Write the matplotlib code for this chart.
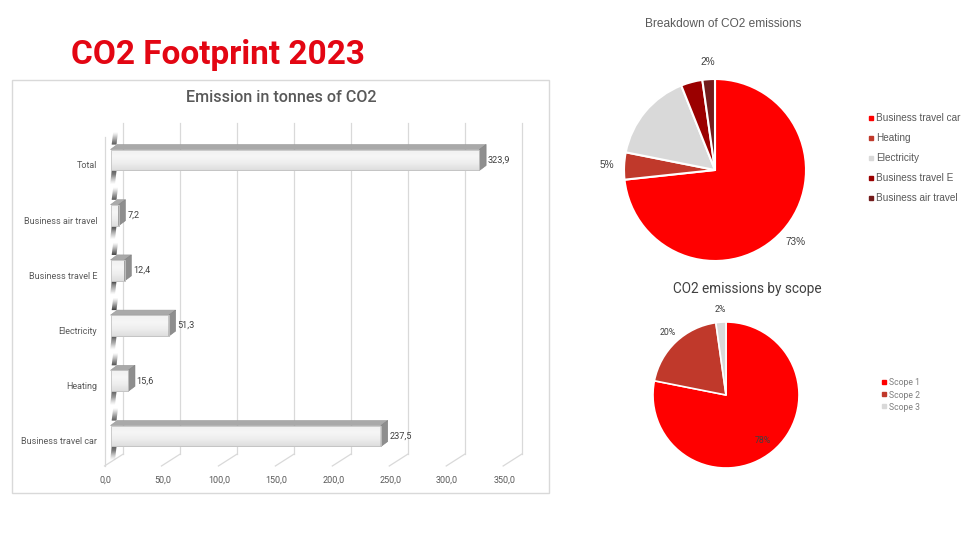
import matplotlib
matplotlib.use("Agg")
import matplotlib.pyplot as plt
import numpy as np
from matplotlib.patches import Polygon, Rectangle
from matplotlib.lines import Line2D
from matplotlib.transforms import ScaledTranslation, IdentityTransform
from matplotlib.colors import LinearSegmentedColormap

# ---------------- data ----------------
bar_categories = ["Business travel car", "Heating", "Electricity",
                  "Business travel E", "Business air travel", "Total"]
bar_values = [237.5, 15.6, 51.3, 12.4, 7.2, 323.9]
x_ticks = [0, 50, 100, 150, 200, 250, 300, 350]

pie1_labels = ["Business travel car", "Heating", "Electricity",
               "Business travel E", "Business air travel"]
pie1_values = [237.5, 15.6, 51.3, 12.4, 7.2]
pie1_show = [True, True, False, False, True]
pie1_colors = ["#ff0000", "#c0392b", "#d9d9d9", "#9b0000", "#731c1c"]

pie2_labels = ["Scope 1", "Scope 2", "Scope 3"]
pie2_values = [253.1, 63.7, 7.2]
pie2_colors = ["#ff0000", "#c0392b", "#d9d9d9"]

W, H = 972, 547
fig = plt.figure(figsize=(W / 100, H / 100), dpi=100)
fig.patch.set_facecolor("white")

def fx(px):
    return px / W

def fy(py):
    return 1 - py / H

# ---------------- red title ----------------
fig.text(fx(218), fy(55), "CO2 Footprint 2023", color="#e30613",
         fontsize=24, fontweight="bold", family="Roboto",
         ha="center", va="center")

# ---------------- bar chart box ----------------
fig.add_artist(Rectangle((fx(11.5), fy(493)), fx(549) - fx(11.5), fy(80) - fy(493),
                         transform=fig.transFigure, facecolor="none",
                         edgecolor="#d9d9d9", linewidth=1.0))
fig.text(fx(281), fy(98), "Emission in tonnes of CO2", color="#595959",
         fontsize=11.6, fontweight="medium", family="Roboto",
         ha="center", va="center")

# bar plane axes
x0_px, ppu = 110.5, 1.139
ax = fig.add_axes([fx(x0_px), fy(461.5), (350 * ppu) / W, (461.5 - 133.5) / H])
ax.set_xlim(0, 350)
ax.set_ylim(-0.462, 5.48)
ax.patch.set_visible(False)
for s in ax.spines.values():
    s.set_visible(False)

ypos = np.arange(len(bar_categories))
bar_h = 0.38

fig.canvas.draw()

def disp(x, y):
    return ax.transData.transform((x, y))

def img2disp_y(py):
    return H - py

DX_BACK, DX_FRONT = 12.8, -6.0
grid_col = "#d9d9d9"
for v in x_ticks:
    xb = disp(v, 0)[0]
    back_x = xb + DX_BACK
    front_x = xb + DX_FRONT
    ax.add_line(Line2D([back_x, back_x], [img2disp_y(454), img2disp_y(123)],
                       transform=IdentityTransform(), color=grid_col, lw=0.9,
                       clip_on=False, zorder=1))
    ax.add_line(Line2D([back_x, front_x], [img2disp_y(454), img2disp_y(466)],
                       transform=IdentityTransform(), color=grid_col, lw=0.9,
                       clip_on=False, zorder=1))
# left wall front edge
xf0 = disp(0, 0)[0] + DX_FRONT
ax.add_line(Line2D([xf0, xf0], [img2disp_y(466), img2disp_y(137)],
                   transform=IdentityTransform(), color=grid_col, lw=0.9,
                   clip_on=False, zorder=1))

# bars (front faces)
bars = ax.barh(ypos, bar_values, height=bar_h, color="#ececec",
               edgecolor="#c8c8c8", linewidth=0.6, zorder=3)

grad = np.linspace(0, 1, 64).reshape(-1, 1)
cmap = LinearSegmentedColormap.from_list("g", ["#dedede", "#eeeeee", "#f6f6f6", "#f0f0f0"])
SDX, SDY = 6.7, 5.0
for b, v in zip(bars, bar_values):
    x_l, y_b = b.get_x(), b.get_y()
    x_r, y_t = x_l + b.get_width(), y_b + b.get_height()
    im = ax.imshow(grad, extent=(x_l, x_r, y_b, y_t), aspect="auto", cmap=cmap,
                   origin="lower", zorder=3.1)
    im.set_clip_path(b)
    p_tl, p_tr = disp(x_l, y_t), disp(x_r, y_t)
    p_br, p_bl = disp(x_r, y_b), disp(x_l, y_b)
    top = Polygon([p_tl, p_tr, (p_tr[0] + SDX, p_tr[1] + SDY), (p_tl[0] + SDX, p_tl[1] + SDY)],
                  closed=True, transform=IdentityTransform(), facecolor="#a9a9a9",
                  edgecolor="#9a9a9a", lw=0.4, zorder=3.2, clip_on=False)
    side = Polygon([p_tr, p_br, (p_br[0] + SDX, p_br[1] + SDY), (p_tr[0] + SDX, p_tr[1] + SDY)],
                   closed=True, transform=IdentityTransform(), facecolor="#8e8e8e",
                   edgecolor="#808080", lw=0.4, zorder=3.2, clip_on=False)
    ax.add_patch(top)
    ax.add_patch(side)
    ax.add_patch(Rectangle((x_l, y_b), x_r - x_l, y_t - y_b, facecolor="none",
                           edgecolor="#c4c4c4", lw=0.6, zorder=3.3))
    # soft dark shadows where bar meets the wall (gradient strips)
    n = 12
    for k in range(n):
        a = 0.9 * (1 - k / n) ** 1.3
        y0 = p_tl[1] + SDY + k * 1.0
        ax.add_patch(Polygon([(p_tl[0] + 1.2 + k * 0.12, y0), (p_tl[0] + 6.0 + k * 0.12, y0),
                              (p_tl[0] + 6.12 + k * 0.12, y0 + 1.05), (p_tl[0] + 1.32 + k * 0.12, y0 + 1.05)],
                             closed=True, transform=IdentityTransform(), facecolor="#2a2a2a",
                             edgecolor="none", alpha=a, zorder=2.9, clip_on=False))
        y1 = p_bl[1] - k * 1.1
        ax.add_patch(Polygon([(p_bl[0] + 1.2 - k * 0.12, y1), (p_bl[0] + 6.0 - k * 0.12, y1),
                              (p_bl[0] + 5.88 - k * 0.12, y1 - 1.15), (p_bl[0] + 1.08 - k * 0.12, y1 - 1.15)],
                             closed=True, transform=IdentityTransform(), facecolor="#2a2a2a",
                             edgecolor="none", alpha=a, zorder=2.9, clip_on=False))
    ax.annotate(f"{v:.1f}".replace(".", ","), (x_r, b.get_y() + b.get_height() / 2),
                xytext=(SDX + 1.8, 0), textcoords="offset pixels",
                ha="left", va="center", fontsize=6.6, family="Roboto",
                color="#404040", zorder=5)

ax.set_yticks(ypos)
ax.set_yticklabels(bar_categories, fontsize=6.5, family="Roboto", color="#595959")
ax.set_xticks(x_ticks)
ax.set_xticklabels([f"{t:.1f}".replace(".", ",") for t in x_ticks],
                   fontsize=6.5, family="Roboto", color="#595959")
ax.tick_params(axis="both", length=0)
ax.tick_params(axis="y", pad=9.7)
ax.tick_params(axis="x", pad=10.2)
for lab in ax.get_yticklabels():
    lab.set_transform(lab.get_transform() + ScaledTranslation(0, -5 / 100, fig.dpi_scale_trans))
for lab in ax.get_xticklabels():
    lab.set_transform(lab.get_transform() + ScaledTranslation(-5 / 100, 0, fig.dpi_scale_trans))

# ---------------- pie 1 ----------------
r1, c1 = 91, (715, 170)
axp1 = fig.add_axes([fx(c1[0] - r1), fy(c1[1] + r1), 2 * r1 / W, 2 * r1 / H])
it1 = iter(pie1_show)
w1, t1, a1 = axp1.pie(pie1_values, colors=pie1_colors, startangle=90, counterclock=False,
                      autopct=lambda p: f"{p:.0f}%" if next(it1) else "",
                      pctdistance=1.19, radius=1,
                      wedgeprops=dict(edgecolor="white", linewidth=1.5),
                      textprops=dict(fontsize=7.2, family="Liberation Sans", color="#404040"))
axp1.set_xlim(-1, 1)
axp1.set_ylim(-1, 1)
axp1.set_aspect("auto")
fig.text(fx(723), fy(24), "Breakdown of CO2 emissions", color="#595959",
         fontsize=8.6, family="Liberation Sans", ha="center", va="center")
h1 = [Line2D([], [], marker="s", ls="none", markersize=3, color=c) for c in pie1_colors]
fig.legend(h1, pie1_labels, loc="center left", bbox_to_anchor=(fx(863), fy(158)),
           frameon=False, handlelength=0.6, handletextpad=0.2,
           labelspacing=1.0, borderpad=0, labelcolor="#595959",
           prop=dict(family="Liberation Sans", size=7.2))

# ---------------- pie 2 ----------------
r2, c2 = 73, (726, 395)
axp2 = fig.add_axes([fx(c2[0] - r2), fy(c2[1] + r2), 2 * r2 / W, 2 * r2 / H])
w2, t2, a2 = axp2.pie(pie2_values, colors=pie2_colors, startangle=90, counterclock=False,
                      autopct=lambda p: f"{p:.0f}%", pctdistance=1.17, radius=1,
                      wedgeprops=dict(edgecolor="white", linewidth=1.2),
                      textprops=dict(fontsize=6.3, family="Roboto", color="#404040"))
th = np.deg2rad((w2[0].theta1 + w2[0].theta2) / 2)
a2[0].set_position((0.8 * np.cos(th), 0.8 * np.sin(th)))
axp2.set_xlim(-1, 1)
axp2.set_ylim(-1, 1)
axp2.set_aspect("auto")
fig.text(fx(747), fy(289), "CO2 emissions by scope", color="#404040",
         fontsize=9.8, family="Roboto", ha="center", va="center")
h2 = [Line2D([], [], marker="s", ls="none", markersize=3, color=c) for c in pie2_colors]
fig.legend(h2, pie2_labels, loc="center left", bbox_to_anchor=(fx(877), fy(395)),
           frameon=False, handlelength=0.6, handletextpad=0.3,
           labelspacing=0.35, borderpad=0, labelcolor="#7f7f7f",
           prop=dict(family="Roboto", size=6.2))

fig.savefig("out.png", dpi=100)
